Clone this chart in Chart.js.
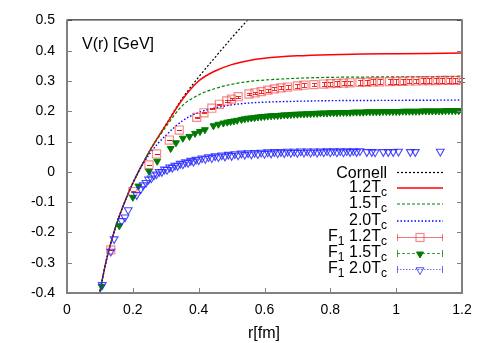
<!DOCTYPE html>
<html>
<head>
<meta charset="utf-8">
<script src="https://cdn.jsdelivr.net/npm/chart.js@4.4.0/dist/chart.umd.min.js"></script>
<style>
  body { margin: 0; background: #fff; }
  #wrap { width: 491px; height: 343px; }
</style>
</head>
<body>
<div id="wrap"><canvas id="potChart" width="491" height="343"></canvas></div>
<script>
// axis ticks
const xTicks = [0, 0.2, 0.4, 0.6, 0.8, 1.0, 1.2];
const yTicks = [-0.4, -0.3, -0.2, -0.1, 0, 0.1, 0.2, 0.3, 0.4, 0.5];

// Cornell potential
const cornellR = [0.1, 0.12, 0.14, 0.16, 0.18, 0.2, 0.25, 0.3, 0.35, 0.4, 0.45, 0.5, 0.55, 0.6];
const cornellV = [-0.395, -0.290, -0.209, -0.143, -0.087, -0.037, 0.067, 0.155, 0.242, 0.313, 0.378, 0.442, 0.503, 0.565];

// 1.2Tc curve
const t12R = [0.1, 0.12, 0.14, 0.16, 0.18, 0.2, 0.25, 0.3, 0.35, 0.4, 0.45, 0.5, 0.55, 0.6, 0.7, 0.8, 0.9, 1.0, 1.1, 1.2];
const t12V = [-0.395, -0.290, -0.209, -0.143, -0.087, -0.037, 0.067, 0.154, 0.238, 0.300, 0.333, 0.354, 0.367, 0.375, 0.383, 0.387, 0.389, 0.390, 0.391, 0.392];

// 1.5Tc curve
const t15R = [0.1, 0.12, 0.14, 0.16, 0.18, 0.2, 0.25, 0.3, 0.35, 0.4, 0.45, 0.5, 0.55, 0.6, 0.7, 0.8, 0.9, 1.0, 1.1, 1.2];
const t15V = [-0.395, -0.290, -0.209, -0.143, -0.087, -0.037, 0.066, 0.148, 0.218, 0.254, 0.275, 0.289, 0.298, 0.303, 0.309, 0.312, 0.313, 0.314, 0.314, 0.315];

// 2.0Tc curve
const t20R = [0.1, 0.12, 0.14, 0.16, 0.18, 0.2, 0.225, 0.25, 0.275, 0.3, 0.35, 0.4, 0.45, 0.5, 0.55, 0.6, 0.7, 0.8, 1.0, 1.2];
const t20V = [-0.395, -0.290, -0.209, -0.143, -0.087, -0.038, 0.016, 0.058, 0.092, 0.120, 0.168, 0.196, 0.211, 0.221, 0.227, 0.230, 0.233, 0.235, 0.236, 0.237];

// F1 1.2Tc lattice points (+ error)
const f12R = [0.133, 0.2, 0.249, 0.272, 0.311, 0.341, 0.394, 0.416, 0.44, 0.463, 0.485, 0.5, 0.52, 0.553, 0.571, 0.59, 0.61, 0.63, 0.65, 0.67, 0.70, 0.72, 0.75, 0.78, 0.80, 0.82, 0.84, 0.86, 0.89, 0.91, 0.93, 0.95, 0.98, 1.0, 1.02, 1.04, 1.06, 1.08, 1.10, 1.12, 1.14, 1.16, 1.18, 1.2];
const f12V = [-0.258, -0.065, 0.023, 0.059, 0.105, 0.138, 0.180, 0.195, 0.210, 0.223, 0.234, 0.240, 0.248, 0.257, 0.261, 0.265, 0.270, 0.274, 0.277, 0.280, 0.284, 0.286, 0.288, 0.290, 0.291, 0.292, 0.293, 0.294, 0.295, 0.296, 0.297, 0.297, 0.298, 0.299, 0.299, 0.300, 0.300, 0.301, 0.301, 0.301, 0.302, 0.302, 0.302, 0.303];
const f12Err = [0.001, 0.001, 0.001, 0.001, 0.001, 0.001, 0.001, 0.001, 0.001, 0.002, 0.002, 0.003, 0.003, 0.003, 0.004, 0.004, 0.005, 0.005, 0.005, 0.006, 0.006, 0.006, 0.006, 0.007, 0.007, 0.007, 0.007, 0.007, 0.008, 0.008, 0.008, 0.008, 0.008, 0.008, 0.008, 0.008, 0.008, 0.008, 0.008, 0.008, 0.008, 0.008, 0.008, 0.008];

// F1 1.5Tc lattice points
const f15R = [
  0.105, 0.159, 0.2, 0.217, 0.249, 0.274, 0.315, 0.331, 0.352, 0.372,
  0.389, 0.404, 0.419, 0.445, 0.46, 0.475, 0.487, 0.497, 0.507, 0.517,
  0.53, 0.54, 0.55, 0.56, 0.57, 0.58, 0.59, 0.60, 0.61, 0.62,
  0.63, 0.64, 0.65, 0.66, 0.67, 0.68, 0.69, 0.70, 0.71, 0.72,
  0.73, 0.74, 0.75, 0.76, 0.77, 0.78, 0.79, 0.80, 0.81, 0.82,
  0.83, 0.84, 0.85, 0.86, 0.87, 0.88, 0.89, 0.90, 0.91, 0.92,
  0.93, 0.94, 0.95, 0.96, 0.97, 0.98, 0.99, 1.00, 1.01, 1.02,
  1.03, 1.04, 1.05, 1.06, 1.07, 1.08, 1.09, 1.10, 1.11, 1.12,
  1.13, 1.14, 1.15, 1.16, 1.17, 1.18, 1.19, 1.20];
const f15V = [
  -0.378, -0.178, -0.084, -0.047, 0.002, 0.035, 0.077, 0.096, 0.111, 0.117,
  0.127, 0.133, 0.139, 0.152, 0.157, 0.161, 0.164, 0.166, 0.168, 0.170,
  0.173, 0.175, 0.177, 0.178, 0.179, 0.181, 0.182, 0.183, 0.184, 0.185,
  0.186, 0.186, 0.187, 0.188, 0.188, 0.189, 0.190, 0.190, 0.191, 0.191,
  0.192, 0.192, 0.193, 0.193, 0.194, 0.194, 0.194, 0.195, 0.195, 0.195,
  0.196, 0.196, 0.196, 0.196, 0.197, 0.197, 0.197, 0.197, 0.198, 0.198,
  0.198, 0.198, 0.198, 0.199, 0.199, 0.199, 0.199, 0.199, 0.199, 0.200,
  0.200, 0.200, 0.200, 0.200, 0.200, 0.201, 0.201, 0.201, 0.201, 0.201,
  0.201, 0.201, 0.202, 0.202, 0.202, 0.202, 0.202, 0.202];

// F1 2.0Tc lattice points
const f20R = [
  0.107, 0.133, 0.143, 0.166, 0.176, 0.186, 0.212, 0.224, 0.232, 0.24,
  0.248, 0.256, 0.264, 0.272, 0.28, 0.288, 0.296, 0.304, 0.312, 0.32,
  0.328, 0.336, 0.344, 0.352, 0.36, 0.368, 0.376, 0.384, 0.392, 0.4,
  0.41, 0.42, 0.43, 0.44, 0.45, 0.46, 0.47, 0.48, 0.49, 0.5,
  0.51, 0.52, 0.53, 0.54, 0.55, 0.56, 0.57, 0.58, 0.59, 0.6,
  0.61, 0.62, 0.63, 0.64, 0.65, 0.66, 0.67, 0.68, 0.69, 0.7,
  0.71, 0.72, 0.73, 0.74, 0.75, 0.76, 0.77, 0.78, 0.79, 0.8,
  0.81, 0.82, 0.83, 0.84, 0.85, 0.86, 0.87, 0.88, 0.89, 0.911,
  0.926, 0.936, 0.961, 0.976, 0.991, 1.007, 1.043, 1.058, 1.134];
const f20V = [
  -0.373, -0.263, -0.222, -0.162, -0.150, -0.126, -0.076, -0.057, -0.044, -0.036,
  -0.025, -0.021, -0.011, -0.008, 0.000, 0.000, 0.008, 0.007, 0.015, 0.014,
  0.021, 0.020, 0.027, 0.025, 0.032, 0.030, 0.037, 0.034, 0.041, 0.039,
  0.045, 0.043, 0.049, 0.046, 0.052, 0.049, 0.055, 0.051, 0.057, 0.053,
  0.059, 0.055, 0.061, 0.057, 0.062, 0.058, 0.063, 0.059, 0.064, 0.060,
  0.065, 0.061, 0.066, 0.062, 0.066, 0.062, 0.067, 0.063, 0.067, 0.063,
  0.068, 0.064, 0.068, 0.064, 0.068, 0.064, 0.068, 0.065, 0.069, 0.065,
  0.069, 0.065, 0.069, 0.065, 0.069, 0.066, 0.069, 0.066, 0.069, 0.066,
  0.066, 0.065, 0.066, 0.066, 0.066, 0.067, 0.066, 0.066, 0.067];

const FONT = "'Liberation Sans', Arial, Helvetica, sans-serif";
const GRAY = '#808080';

function toPoints(rs, vs) {
  return rs.map((r, i) => ({ x: r, y: vs[i] }));
}

function fmt(v) {
  return String(Math.round(v * 10) / 10);
}

// legend entries: [text, isSubscript]
const legendItems = [
  { parts: [['Cornell', 0]], kind: 'cornell' },
  { parts: [['1.2T', 0], ['c', 1]], kind: 't12' },
  { parts: [['1.5T', 0], ['c', 1]], kind: 't15' },
  { parts: [['2.0T', 0], ['c', 1]], kind: 't20' },
  { parts: [['F', 0], ['1', 1], [' 1.2T', 0], ['c', 1]], kind: 'f12' },
  { parts: [['F', 0], ['1', 1], [' 1.5T', 0], ['c', 1]], kind: 'f15' },
  { parts: [['F', 0], ['1', 1], [' 2.0T', 0], ['c', 1]], kind: 'f20' }
];
const legendY = [172, 188, 204, 221, 237, 253, 269];

function seg(ctx, x1, y1, x2, y2) {
  ctx.beginPath();
  ctx.moveTo(x1, y1);
  ctx.lineTo(x2, y2);
  ctx.stroke();
}

function square(ctx, x, y, h) {
  ctx.strokeRect(x - h, y - h, 2 * h, 2 * h);
}

function downTri(ctx, x, y, r, fill) {
  ctx.beginPath();
  ctx.moveTo(x, y + r);
  ctx.lineTo(x - r * 0.866, y - r * 0.5);
  ctx.lineTo(x + r * 0.866, y - r * 0.5);
  ctx.closePath();
  if (fill) ctx.fill();
  ctx.stroke();
}

function drawSample(ctx, kind, y) {
  const x1 = 397, x2 = 443, xm = 420;
  ctx.save();
  ctx.setLineDash([]);
  if (kind === 'cornell') {
    ctx.strokeStyle = '#000'; ctx.lineWidth = 1.2; ctx.setLineDash([2, 2]);
    seg(ctx, x1, y + 0.5, x2, y + 0.5);
  } else if (kind === 't12') {
    ctx.strokeStyle = '#ff0000'; ctx.lineWidth = 1.5;
    seg(ctx, x1, y, x2, y);
  } else if (kind === 't15') {
    ctx.strokeStyle = '#008000'; ctx.lineWidth = 1.2; ctx.setLineDash([3, 2]);
    seg(ctx, x1, y, x2, y);
  } else if (kind === 't20') {
    ctx.strokeStyle = '#0000ff'; ctx.lineWidth = 1.4; ctx.setLineDash([1.5, 2]);
    seg(ctx, x1, y, x2, y);
  } else {
    let col, dash;
    if (kind === 'f12') { col = 'rgba(240,60,60,0.7)'; dash = []; }
    if (kind === 'f15') { col = 'rgba(0,128,0,0.75)'; dash = [3, 2]; }
    if (kind === 'f20') { col = 'rgba(60,60,255,0.75)'; dash = [1.5, 1.5]; }
    ctx.strokeStyle = col; ctx.lineWidth = 1; ctx.setLineDash(dash);
    seg(ctx, x1, y + 0.5, x2, y + 0.5);
    ctx.setLineDash([]);
    seg(ctx, x1 + 0.5, y - 3, x1 + 0.5, y + 4);
    seg(ctx, x2 - 0.5, y - 3, x2 - 0.5, y + 4);
    if (kind === 'f12') {
      ctx.strokeStyle = 'rgba(240,60,60,0.6)'; ctx.lineWidth = 1.2;
      square(ctx, xm, y + 0.5, 4);
    } else if (kind === 'f15') {
      ctx.fillStyle = '#007a00'; ctx.strokeStyle = '#007a00';
      downTri(ctx, xm, y + 1, 4, true);
    } else {
      ctx.strokeStyle = 'rgba(50,50,255,0.85)';
      downTri(ctx, xm, y + 1, 4.5, false);
    }
  }
  ctx.restore();
}

function drawParts(ctx, parts, right, y) {
  const MAIN = '16px ' + FONT, SUB = '12px ' + FONT;
  let w = 0;
  parts.forEach(p => { ctx.font = p[1] ? SUB : MAIN; w += ctx.measureText(p[0]).width; });
  let x = right - w;
  parts.forEach(p => {
    ctx.font = p[1] ? SUB : MAIN;
    ctx.fillText(p[0], x, p[1] ? y + 4 : y);
    x += ctx.measureText(p[0]).width;
  });
}

// error bars of F1 1.2Tc, drawn together with its squares
const errorBarPlugin = {
  id: 'errorBars',
  afterDatasetDraw(chart, args) {
    if (chart.data.datasets[args.index].label !== 'F1 1.2Tc') return;
    const ctx = chart.ctx;
    const xs = chart.scales.x, ys = chart.scales.y;
    ctx.save();
    ctx.strokeStyle = 'rgba(235,0,0,0.8)';
    ctx.lineWidth = 1;
    f12R.forEach((r, i) => {
      const px = Math.round(xs.getPixelForValue(r)) + 0.5;
      const lo = Math.round(ys.getPixelForValue(f12V[i] - f12Err[i])) + 0.5;
      const hi = Math.round(ys.getPixelForValue(f12V[i] + f12Err[i])) + 0.5;
      seg(ctx, px, lo, px, hi);
      seg(ctx, px - 2.5, lo, px + 2.5, lo);
      seg(ctx, px - 2.5, hi, px + 2.5, hi);
    });
    ctx.restore();
  }
};

// gnuplot like frame, inward ticks, labels and key
const framePlugin = {
  id: 'frame',
  afterDraw(chart) {
    const ctx = chart.ctx;
    const a = chart.chartArea;
    const xs = chart.scales.x, ys = chart.scales.y;
    ctx.save();
    ctx.strokeStyle = GRAY;
    ctx.lineWidth = 1;
    yTicks.forEach(v => {
      const py = Math.round(ys.getPixelForValue(v)) + 0.5;
      seg(ctx, a.left, py, a.left + 5, py);
      seg(ctx, a.right - 5, py, a.right, py);
    });
    xTicks.forEach(v => {
      const px = Math.round(xs.getPixelForValue(v)) + 0.5;
      seg(ctx, px, a.bottom, px, a.bottom - 5);
    });
    // border
    ctx.strokeStyle = '#000';
    ctx.lineWidth = 1;
    seg(ctx, a.left, a.top - 0.5, a.right, a.top - 0.5);
    ctx.strokeStyle = GRAY;
    ctx.lineWidth = 2;
    seg(ctx, a.left, a.top - 1, a.left, a.bottom + 1);
    seg(ctx, a.left - 1, a.bottom, a.right + 1, a.bottom);
    seg(ctx, a.right, a.top - 1, a.right, a.bottom + 1);

    // texts
    ctx.fillStyle = '#000';
    ctx.textBaseline = 'middle';
    ctx.textAlign = 'left';
    ctx.font = '16px ' + FONT;
    ctx.fillText('V(r) [GeV]', 82, 45);
    ctx.textAlign = 'center';
    ctx.fillText('r[fm]', 264, 334);

    // key
    ctx.textAlign = 'left';
    ctx.textBaseline = 'alphabetic';
    legendItems.forEach((item, i) => {
      const y = legendY[i];
      const hasSub = item.parts.length > 1;
      drawParts(ctx, item.parts, 387, hasSub ? y + 4 : y + 6);
      drawSample(ctx, item.kind, y);
    });
    ctx.restore();
  }
};

const ctx = document.getElementById('potChart').getContext('2d');
Chart.defaults.font.family = FONT;
Chart.defaults.font.size = 14;
Chart.defaults.color = '#000';

new Chart(ctx, {
  type: 'scatter',
  data: {
    datasets: [{
      label: 'Cornell',
      data: toPoints(cornellR, cornellV),
      showLine: true,
      borderColor: '#000',
      borderWidth: 1.2,
      borderDash: [2, 2],
      pointRadius: 0,
      cubicInterpolationMode: 'monotone',
      order: 7
    }, {
      label: '1.2Tc',
      data: toPoints(t12R, t12V),
      showLine: true,
      borderColor: '#ff0000',
      borderWidth: 1.5,
      pointRadius: 0,
      cubicInterpolationMode: 'monotone',
      order: 6
    }, {
      label: '1.5Tc',
      data: toPoints(t15R, t15V),
      showLine: true,
      borderColor: '#008000',
      borderWidth: 1.2,
      borderDash: [3, 2],
      pointRadius: 0,
      cubicInterpolationMode: 'monotone',
      order: 5
    }, {
      label: '2.0Tc',
      data: toPoints(t20R, t20V),
      showLine: true,
      borderColor: '#0000ff',
      borderWidth: 1.4,
      borderDash: [1.5, 2],
      pointRadius: 0,
      cubicInterpolationMode: 'monotone',
      order: 4
    }, {
      label: 'F1 1.2Tc',
      data: toPoints(f12R, f12V),
      pointStyle: 'rect',
      pointRadius: 5.7,
      borderWidth: 1.2,
      borderColor: 'rgba(240,60,60,0.6)',
      backgroundColor: 'rgba(0,0,0,0)',
      order: 3
    }, {
      label: 'F1 1.5Tc',
      data: toPoints(f15R, f15V),
      pointStyle: 'triangle',
      rotation: 180,
      pointRadius: 4,
      borderWidth: 1,
      borderColor: '#007a00',
      backgroundColor: '#007a00',
      order: 2
    }, {
      label: 'F1 2.0Tc',
      data: toPoints(f20R, f20V),
      pointStyle: 'triangle',
      rotation: 180,
      pointRadius: 4.5,
      borderWidth: 1.1,
      borderColor: 'rgba(40,40,255,0.85)',
      backgroundColor: 'rgba(0,0,0,0)',
      order: 1
    }]
  },
  options: {
    responsive: false,
    animation: false,
    events: [],
    layout: { padding: { top: 20, right: 29, left: 0, bottom: 0 } },
    plugins: {
      legend: { display: false },
      tooltip: { enabled: false }
    },
    scales: {
      x: {
        type: 'linear',
        min: 0,
        max: 1.2,
        grid: { display: false, drawTicks: false },
        border: { display: false },
        afterBuildTicks: s => { s.ticks = xTicks.map(v => ({ value: v })); },
        afterFit: s => { s.height = 50; },
        ticks: { padding: 9, color: '#000', font: { size: 14 }, maxRotation: 0, callback: v => fmt(v) }
      },
      y: {
        type: 'linear',
        min: -0.4,
        max: 0.5,
        grid: { display: false, drawTicks: false },
        border: { display: false },
        afterBuildTicks: s => { s.ticks = yTicks.map(v => ({ value: v })); },
        afterFit: s => { s.width = 67; },
        ticks: { padding: 12, color: '#000', font: { size: 14 }, callback: v => fmt(v) }
      }
    }
  },
  plugins: [errorBarPlugin, framePlugin]
});
</script>
</body>
</html>
